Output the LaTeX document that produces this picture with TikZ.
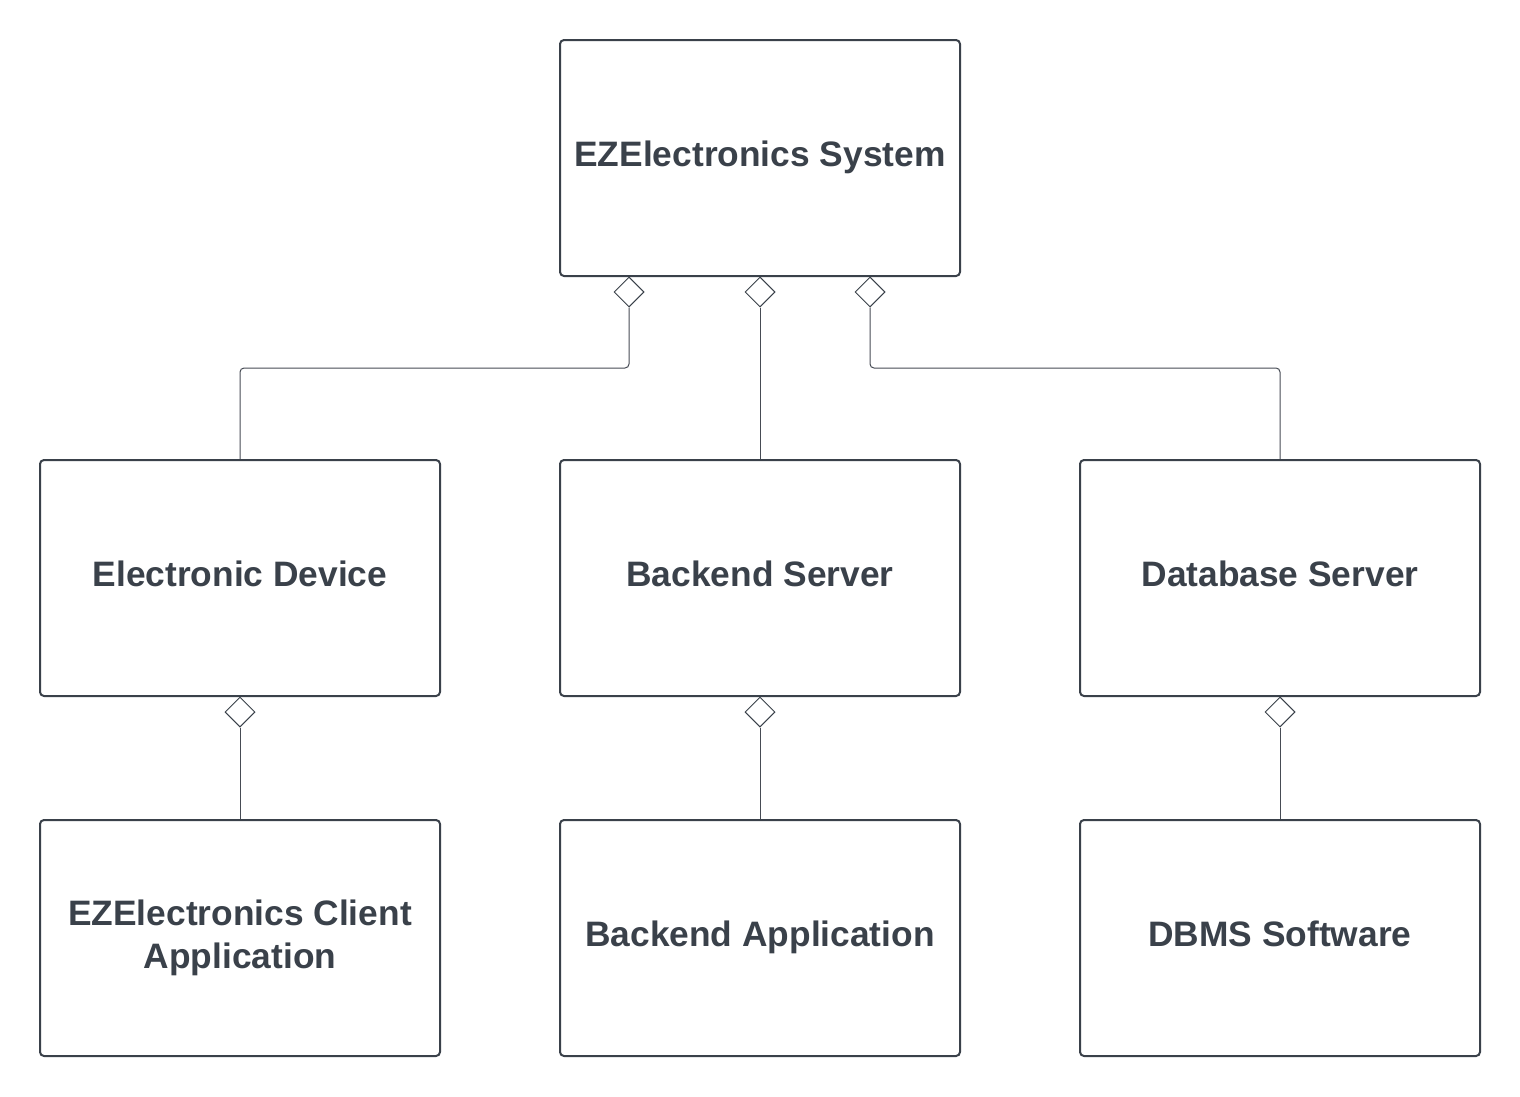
\documentclass[tikz,border=0pt]{standalone}
\usepackage{fontspec}
\setmainfont{Liberation Sans}
\usetikzlibrary{shapes.geometric}
\definecolor{ink}{RGB}{58,65,74}
\definecolor{wire}{RGB}{70,75,84}

\begin{document}
\begin{tikzpicture}[x=0.75pt,y=0.75pt,yscale=-1,xscale=1]
\tikzset{
  partbox/.style={draw=ink, line width=1.5pt, rounded corners=3pt, fill=white,
    minimum width=300pt, minimum height=177pt, inner sep=0pt,
    text height=19.5pt, text depth=6.5pt,
    text=ink, align=center, font=\fontsize{26.5}{32.3}\selectfont\bfseries},
  aggr/.style={draw=ink, line width=0.75pt, diamond, aspect=1, fill=white,
    minimum width=22.5pt, minimum height=22.5pt, inner sep=0pt},
  conn/.style={draw=wire, line width=0.75pt, rounded corners=3pt}
}
%set diagram size 1520 x 1096
\useasboundingbox (0,0) rectangle (1520,1096);

%Shape: top box
\node [partbox] (sys) at (760,158) {EZElectronics System};
%Shape: middle row
\node [partbox] (dev) at (240,578) {Electronic Device};
\node [partbox] (srv) at (760,578) {Backend Server};
\node [partbox] (dbs) at (1280,578) {Database Server};
%Shape: bottom row
\node [partbox, text height=51.8pt] (cli) at (240,938) {EZElectronics Client\\Application};
\node [partbox] (app) at (760,938) {Backend Application};
\node [partbox] (dbms) at (1280,938) {DBMS Software};

%Shape: aggregation diamonds
\node [aggr] (d1) at (629,292) {};
\node [aggr] (d2) at (760,292) {};
\node [aggr] (d3) at (870,292) {};
\node [aggr] (d4) at (240,712) {};
\node [aggr] (d5) at (760,712) {};
\node [aggr] (d6) at (1280,712) {};

%Connectors
\coordinate (j1) at (629,368);
\coordinate (j3) at (870,368);
\draw [conn] (d1.south) -- (j1) -| (dev.north);
\draw [conn] (d2.south) -- (srv.north);
\draw [conn] (d3.south) -- (j3) -| (dbs.north);
\draw [conn] (d4.south) -- (cli.north);
\draw [conn] (d5.south) -- (app.north);
\draw [conn] (d6.south) -- (dbms.north);

\end{tikzpicture}
\end{document}
